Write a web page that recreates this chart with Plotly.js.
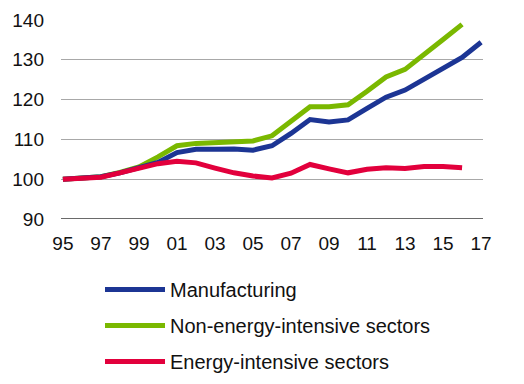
<!DOCTYPE html>
<html>
<head>
<meta charset="utf-8">
<script src="https://cdn.plot.ly/plotly-3.0.1.min.js"></script>
<style>html,body{margin:0;padding:0;background:#fff;}#chart{width:524px;height:384px;}</style>
</head>
<body>
<div id="chart"></div>
<script>
const years = [1995,1996,1997,1998,1999,2000,2001,2002,2003,2004,2005,2006,2007,2008,2009,2010,2011,2012,2013,2014,2015,2016,2017];
const tickYears = [1995,1997,1999,2001,2003,2005,2007,2009,2011,2013,2015,2017];
const tickLabels = ['95','97','99','01','03','05','07','09','11','13','15','17'];
const manufacturing = [100,100.4,100.6,101.6,102.8,104.2,106.7,107.5,107.5,107.6,107.3,108.4,111.5,115.0,114.4,114.9,117.8,120.6,122.4,125.1,128.0,130.6,134.4];
const nonEnergy = [100,100.4,100.6,101.7,103.1,105.6,108.4,109.0,109.2,109.5,109.6,110.9,114.4,118.2,118.2,118.7,122.1,125.7,127.6,131.2,135.1,138.9,null];
const energy = [100,100.3,100.5,101.6,102.7,103.9,104.5,104.1,102.8,101.6,100.8,100.3,101.5,103.7,102.6,101.6,102.5,102.9,102.7,103.2,103.2,102.9,null];
const names = ['Manufacturing','Non-energy-intensive sectors','Energy-intensive sectors'];
const colors = ['#1c3594','#7ab800','#e2003c'];
const series = [manufacturing, nonEnergy, energy];

const traces = series.map((s,i)=>({
  x: years, y: s, type:'scatter', mode:'lines', name: names[i],
  legendgroup: 'g'+i, legendrank: i+1,
  line:{color:colors[i], width:5},
  connectgaps:false, hoverinfo:'skip'
}));
// drawing order: green first, then blue, red on top
const data = [traces[1], traces[0], traces[2]];

const layout = {
  width:524, height:384,
  margin:{l:61, r:41, t:20, b:165, autoexpand:false},
  paper_bgcolor:'#fff', plot_bgcolor:'#fff',
  font:{family:'Liberation Sans, Arial, sans-serif', color:'#111'},
  showlegend:true,
  legend:{
    xref:'paper', yref:'paper',
    x:(100-61)/422, y:-(270-219)/199, xanchor:'left', yanchor:'top',
    orientation:'v', traceorder:'grouped',
    font:{size:20, color:'#111'},
    itemwidth:60, tracegroupgap:7,
    bgcolor:'rgba(0,0,0,0)'
  },
  xaxis:{
    range:[1994.9,2017.1], tickvals:tickYears, ticktext:tickLabels,
    showgrid:false, zeroline:false, showline:false,
    ticks:'', tickfont:{size:19, color:'#111'}, tickangle:0,
    ticklabelstandoff:11,
    fixedrange:true
  },
  yaxis:{
    range:[90,140], tickvals:[90,100,110,120,130,140],
    showgrid:true, gridcolor:'#a8a8a8', gridwidth:1.3,
    zeroline:false, showline:false, ticks:'',
    tickfont:{size:19, color:'#111'},
    ticklabelstandoff:16,
    fixedrange:true
  },
  shapes:[{type:'line', xref:'paper', yref:'y', x0:0, x1:1, y0:90, y1:90, line:{color:'#6a6a6a', width:2}, layer:'above'}]
};
Plotly.newPlot('chart', data, layout, {staticPlot:true, displayModeBar:false});
</script>
</body>
</html>
